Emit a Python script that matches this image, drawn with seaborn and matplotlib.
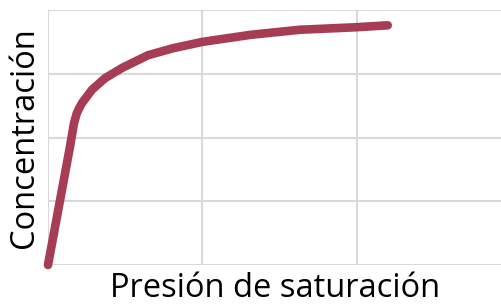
import matplotlib
matplotlib.use("Agg")
import matplotlib.pyplot as plt
import seaborn as sns
import pandas as pd

presion = [0.0, 0.142, 0.168, 0.185, 0.200, 0.220, 0.285, 0.369, 0.479, 0.647, 0.809, 1.0, 1.31, 1.63, 2.0, 2.20]
concentracion = [0.0, 1.85, 2.22, 2.37, 2.45, 2.54, 2.75, 2.93, 3.09, 3.29, 3.40, 3.50, 3.61, 3.69, 3.73, 3.76]
x_label = "Presión de saturación"
y_label = "Concentración"

df = pd.DataFrame({"x": presion, "y": concentracion})

sns.set_style("white")
plt.rcParams['font.family'] = ['Open Sans', 'DejaVu Sans']

fig = plt.figure(figsize=(5.02, 3.05), dpi=100)
ax = fig.add_axes([48/502, 40/305, 1 - 48/502, 255/305])

sns.lineplot(data=df, x="x", y="y", ax=ax, color="#A63D55", linewidth=6.2,
             solid_capstyle="round", solid_joinstyle="round", clip_on=False)

ax.set_xlim(0, 2.94)
ax.set_ylim(0, 4)
ax.set_xticks([0, 1, 2])
ax.set_yticks([0, 1, 2, 3, 4])
ax.tick_params(left=False, bottom=False, labelleft=False, labelbottom=False)
ax.grid(True, color="#D9D9D9", linewidth=1.5)
ax.set_axisbelow(True)
for s in ax.spines.values():
    s.set_visible(False)

ax.set_xlabel(x_label, fontsize=23.5, color="black", labelpad=5)
ax.set_ylabel(y_label, fontsize=23.5, color="black", labelpad=5)

fig.savefig("out.png", dpi=100)
